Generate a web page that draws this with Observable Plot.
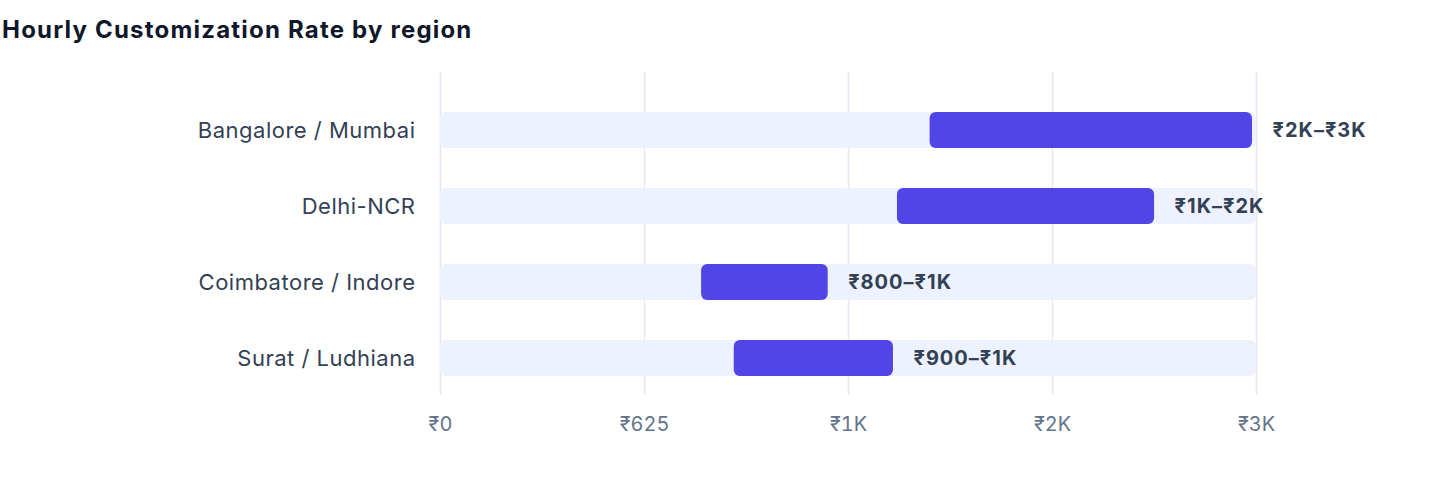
<!DOCTYPE html>
<html><head><meta charset="utf-8">
<script src="https://cdn.jsdelivr.net/npm/d3@7"></script>
<script src="https://cdn.jsdelivr.net/npm/@observablehq/plot@0.6"></script>
<style>
html,body{margin:0;padding:0;background:#fff;}
#title{box-sizing:border-box;height:56px;padding:17.5px 0 0 2px;font:700 24px/24px Inter, sans-serif;letter-spacing:1.2px;color:#0f172a;white-space:nowrap;}
#chart svg{display:block;}
#chart g[aria-label='text'] text{letter-spacing:1px;}
#chart g[aria-label='y-axis tick label'] text{letter-spacing:0.5px;}
</style></head><body>
<div id="title">Hourly Customization Rate by region</div>
<div id="chart"></div>
<script>
const regions = ["Bangalore / Mumbai", "Delhi-NCR", "Coimbatore / Indore", "Surat / Ludhiana"];
const rateLow = [1500, 1400, 800, 900];
const rateHigh = [2500, 2200, 1200, 1400];
const scaleMax = 2500;
const xTicks = [0, 625, 1250, 1875, 2500];

const fmt = v => v >= 1000 ? `₹${Math.round(v / 1000)}K` : `₹${v}`;
const rows = regions.map((r, i) => ({region: r, lo: rateLow[i], hi: rateHigh[i], max: scaleMax}));

const chart = Plot.plot({
  width: 1440,
  height: 428,
  marginTop: 16,
  marginBottom: 89,
  marginLeft: 440,
  marginRight: 184,
  style: {fontFamily: "Inter, sans-serif", background: "#fff"},
  x: {domain: [0, scaleMax]},
  y: {domain: regions, range: [56, 320], paddingInner: 0.526, paddingOuter: 0, align: 0.5, round: false},
  marks: [
    Plot.gridX(xTicks, {stroke: "#e2e8f0", strokeOpacity: 1, strokeWidth: 1.5}),
    Plot.barX(rows, {x1: 0, x2: "max", y: "region", fill: "#eef2ff", rx: 6}),
    Plot.barX(rows, {x1: "lo", x2: "hi", y: "region", fill: "#4f46e5", rx: 6, insetRight: 4}),
    Plot.text(rows, {x: "hi", y: "region", text: d => `${fmt(d.lo)}–${fmt(d.hi)}`, dx: 16, textAnchor: "start", fontSize: 20, fontWeight: 700, fill: "#334155"}),
    Plot.axisX({ticks: xTicks, tickFormat: fmt, tickSize: 0, tickPadding: 21, fontSize: 20, fill: "#64748b", label: null}),
    Plot.axisY({tickSize: 0, tickPadding: 25, fontSize: 22, fill: "#334155", label: null})
  ]
});
document.getElementById("chart").appendChild(chart);
</script>
</body></html>
